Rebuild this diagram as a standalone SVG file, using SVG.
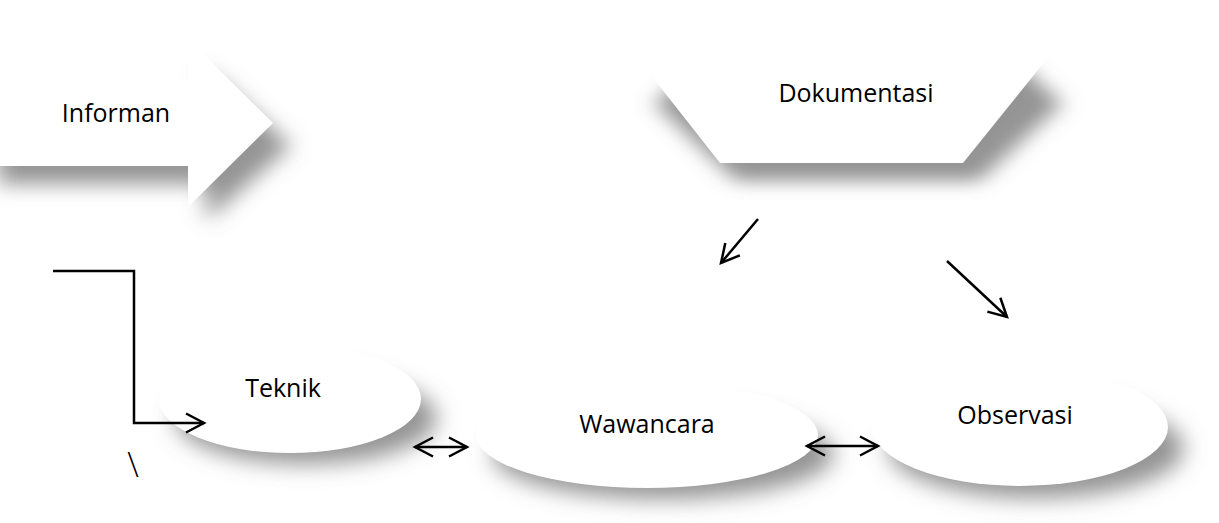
<svg xmlns="http://www.w3.org/2000/svg" width="1219" height="523" viewBox="0 0 1219 523">
<style>
.shape{fill:#ffffff}
.shd{fill:#707070;fill-opacity:0.75;filter:url(#blur)}
.lbl{font-family:"Open Sans","Liberation Sans",sans-serif;font-size:25px;fill:#000000;text-anchor:middle}
.con{fill:none;stroke:#000000;stroke-width:2.5}
</style>
<defs>
<filter id="blur" x="-30%" y="-40%" width="160%" height="180%">
<feGaussianBlur stdDeviation="11"/>
</filter>
<marker id="v" markerUnits="userSpaceOnUse" markerWidth="26" markerHeight="26" refX="21" refY="12" orient="auto-start-reverse">
<path d="M3,2.5 L21,12 L3,21.5" fill="none" stroke="#000000" stroke-width="2.5"/>
</marker>
<polygon id="p-inf" points="-20,80 188,80 188,39 273,123 188,207 188,166 -20,166"/>
<polygon id="p-dok" points="639,60 720,163 963,163 1046,60 963,-43 720,-43"/>
</defs>
<rect width="1219" height="523" fill="#ffffff"/>
<g id="informan">
<use href="#p-inf" class="shd" transform="translate(18,14) translate(0,207) scale(1,0.9) translate(0,-207)"/>
<use href="#p-inf" class="shape"/>
<text class="lbl" x="116" y="122">Informan</text>
</g>
<g id="dokumentasi">
<use href="#p-dok" class="shd" transform="translate(16,18) translate(0,163) scale(1,0.75) translate(0,-163)"/>
<use href="#p-dok" class="shape"/>
<text class="lbl" x="856" y="102">Dokumentasi</text>
</g>
<g id="teknik">
<ellipse class="shd" cx="306" cy="418" rx="131" ry="46"/>
<ellipse class="shape" cx="290" cy="399" rx="131" ry="54"/>
<text class="lbl" x="283" y="397">Teknik</text>
</g>
<g id="wawancara">
<ellipse class="shd" cx="663" cy="454" rx="171" ry="45"/>
<ellipse class="shape" cx="647" cy="435" rx="171" ry="53"/>
<text class="lbl" x="647" y="433">Wawancara</text>
</g>
<g id="observasi">
<ellipse class="shd" cx="1036" cy="448" rx="148" ry="50"/>
<ellipse class="shape" cx="1020" cy="427" rx="148" ry="59"/>
<text class="lbl" x="1015" y="424">Observasi</text>
</g>
<g id="connectors">
<polyline class="con" points="53,271 134,271 134,423 204,423" marker-end="url(#v)"/>
<line class="con" x1="415" y1="447" x2="467" y2="447" marker-start="url(#v)" marker-end="url(#v)"/>
<line class="con" x1="807" y1="446" x2="878" y2="446" marker-start="url(#v)" marker-end="url(#v)"/>
<line class="con" x1="758" y1="219" x2="721" y2="263" marker-end="url(#v)"/>
<line class="con" x1="947" y1="261" x2="1007" y2="317" marker-end="url(#v)"/>
</g>
<text x="133" y="477" font-family="Open Sans, sans-serif" font-size="34" fill="#000000" text-anchor="middle" font-weight="300">\</text>
</svg>
